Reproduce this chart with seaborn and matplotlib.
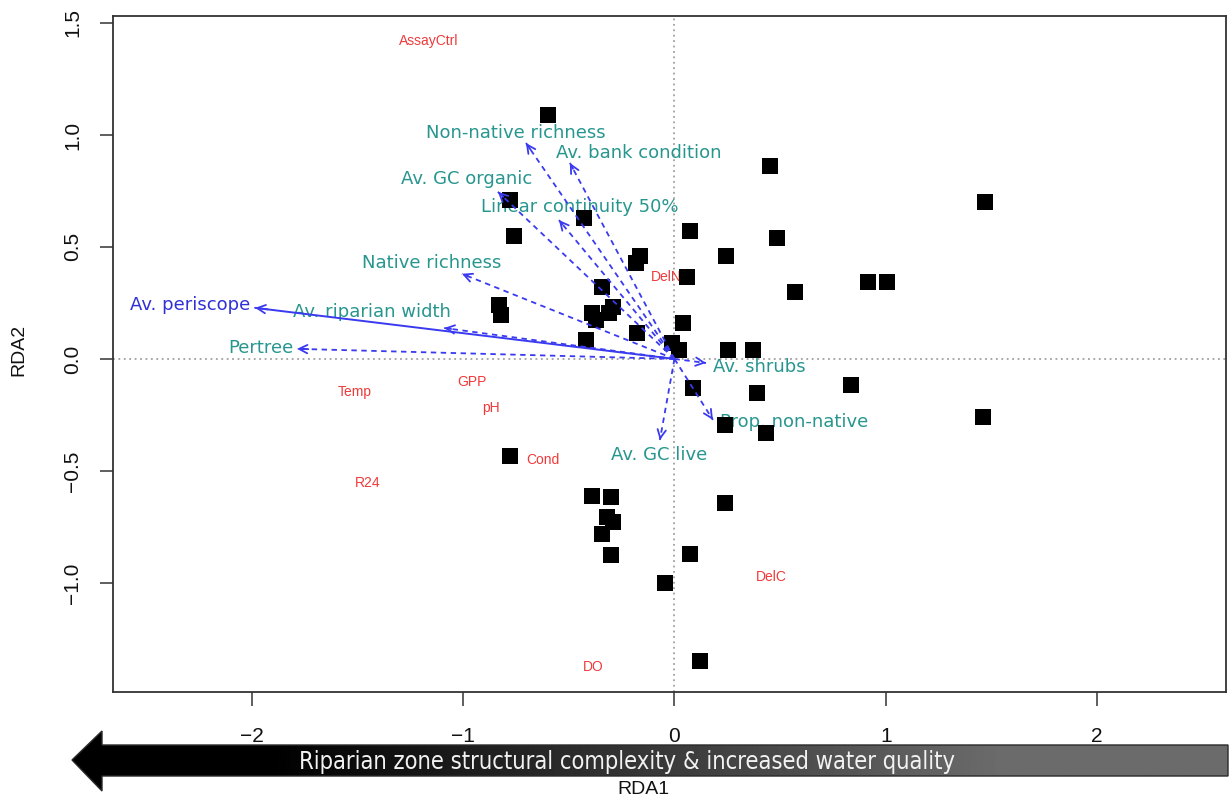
import numpy as np
import pandas as pd
import matplotlib
matplotlib.use("Agg")
import matplotlib.pyplot as plt
import seaborn as sns
from matplotlib.patches import Polygon

# ---- site scores (black squares) ----
site_x = [-0.60, 0.45, 1.47, -0.78, -0.76, -0.43, 0.075, 0.485, 0.245, -0.165,
          -0.18, 0.06, 0.57, 0.915, 1.005, -0.345, -0.83, -0.82, -0.39, -0.37,
          -0.29, -0.31, -0.175, -0.42, 0.04, -0.01, 0.02, 0.255, 0.37, 0.09,
          0.39, 0.835, 1.46, 0.24, 0.435, -0.78, -0.39, -0.30, 0.24, -0.32,
          -0.29, -0.345, -0.30, 0.075, -0.045, 0.12]
site_y = [1.09, 0.86, 0.70, 0.71, 0.55, 0.63, 0.57, 0.54, 0.46, 0.46,
          0.43, 0.365, 0.30, 0.345, 0.345, 0.32, 0.24, 0.195, 0.205, 0.175,
          0.23, 0.205, 0.115, 0.085, 0.16, 0.07, 0.04, 0.04, 0.04, -0.13,
          -0.15, -0.115, -0.26, -0.295, -0.33, -0.435, -0.61, -0.615, -0.645, -0.705,
          -0.73, -0.78, -0.875, -0.87, -1.00, -1.35]

# ---- explanatory variable arrows ----
var_names = ["Av. periscope", "Av. riparian width", "Pertree", "Native richness",
             "Av. GC organic", "Non-native richness", "Av. bank condition",
             "Linear continuity 50%", "Av. shrubs", "Prop. non-native", "Av. GC live"]
var_x = [-1.985, -1.09, -1.787, -1.006, -0.836, -0.703, -0.495, -0.547, 0.149, 0.182, -0.069]
var_y = [0.228, 0.138, 0.045, 0.38, 0.746, 0.964, 0.875, 0.62, -0.018, -0.272, -0.362]
var_lab_x = [-2.293, -1.434, -1.957, -1.148, -0.982, -0.75, -0.168, -0.447, 0.40, 0.566, -0.073]
var_lab_y = [0.241, 0.21, 0.049, 0.428, 0.804, 1.009, 0.92, 0.679, -0.036, -0.281, -0.429]

# ---- response variable labels (red) ----
env_names = ["AssayCtrl", "DelN", "Temp", "GPP", "pH", "Cond", "R24", "DelC", "DO"]
env_x = [-1.162, -0.04, -1.512, -0.958, -0.869, -0.622, -1.45, 0.457, -0.386]
env_y = [1.42, 0.366, -0.147, -0.103, -0.219, -0.451, -0.554, -0.973, -1.375]

xticks = [-2, -1, 0, 1, 2]
xtick_labels = ["\u22122", "\u22121", "0", "1", "2"]
yticks = [-1.0, -0.5, 0.0, 0.5, 1.0, 1.5]
ytick_labels = ["\u22121.0", "\u22120.5", "0.0", "0.5", "1.0", "1.5"]
bar_text = "Riparian zone structural complexity & increased water quality"

sns.set_theme(style="white")
plt.rcParams['font.family'] = ['Liberation Sans', 'DejaVu Sans']

W, H = 1229, 802
fig = plt.figure(figsize=(W / 100, H / 100), dpi=100)
fig.patch.set_facecolor("white")
ax = fig.add_axes([113 / W, 110 / H, 1113 / W, 676 / H])
ax.set_facecolor("white")
ax.set_xlim(-2.658, 2.611)
ax.set_ylim(-1.487, 1.531)

ax.axhline(0, color="#a0a0a0", ls=(0, (1, 2)), lw=1.3, zorder=1)
ax.axvline(0, color="#a0a0a0", ls=(0, (1, 2)), lw=1.3, zorder=1)

teal = "#27968e"
blue = "#3a3af0"
red = "#f03a3a"

for n, lx, ly in zip(var_names, var_lab_x, var_lab_y):
    ax.text(lx, ly, n, color=("#3030d8" if n == "Av. periscope" else teal),
            fontsize=13, ha="center", va="center", family=["DejaVu Sans"], zorder=3)
for n, ex, ey in zip(env_names, env_x, env_y):
    ax.text(ex, ey, n, color=red, fontsize=10, ha="center", va="center", zorder=3)

df = pd.DataFrame({"RDA1": site_x, "RDA2": site_y})
sns.scatterplot(data=df, x="RDA1", y="RDA2", marker="s", s=140, color="black",
                linewidth=0, ax=ax, zorder=4, legend=False)

for n, vx, vy in zip(var_names, var_x, var_y):
    solid = (n == "Av. periscope")
    ax.plot([0, vx], [0, vy], color=blue, lw=1.4 if solid else 1.3,
            ls="-" if solid else (0, (3, 2.5)), zorder=5)
    ax.annotate("", xy=(vx, vy), xytext=(vx * 0.97, vy * 0.97),
                arrowprops=dict(arrowstyle="->,head_length=0.5,head_width=0.25",
                                color=blue, lw=1.3, shrinkA=0, shrinkB=0), zorder=5)

ax.set_xticks(xticks)
ax.set_xticklabels(xtick_labels)
ax.set_yticks(yticks)
ax.set_yticklabels(ytick_labels, rotation=90, va="center")
ax.tick_params(axis="x", bottom=True, direction="out", length=10, width=1.1,
               color="#333333", labelsize=15, pad=15, labelcolor="#111111")
ax.tick_params(axis="y", left=True, direction="out", length=9.4, width=1.1,
               color="#333333", labelsize=15, pad=13, labelcolor="#111111")
ax.set_xlabel("")
ax.set_ylabel("")
for sp in ax.spines.values():
    sp.set_visible(True)
    sp.set_color("#333333")
    sp.set_linewidth(1.3)

fig.text(643 / W, 1 - 790 / H, "RDA1", ha="center", va="center", fontsize=14, color="#111111")
fig.text(19 / W, 1 - 350 / H, "RDA2", ha="center", va="center", fontsize=14,
         rotation=90, color="#111111")

# ---- gradient arrow at the bottom ----
oax = fig.add_axes([0, 0, 1, 1], zorder=10)
oax.patch.set_alpha(0)
oax.axis("off")
poly_pts = [(72, 760), (102, 731), (102, 745), (1228, 745), (1228, 776),
            (102, 776), (102, 791)]
poly = Polygon(poly_pts, closed=True, facecolor="none", edgecolor="#2a2a2a", lw=1)
oax.add_patch(poly)
gx = np.linspace(72, 1228, 800)
gv = np.interp(gx, [72, 270, 1000, 1228], [0.0, 0.0, 0.42, 0.42])
im = oax.imshow(np.tile(gv, (2, 1)), cmap="gray", vmin=0, vmax=1,
                extent=[72, 1228, 791, 731], aspect="auto", interpolation="bilinear")
im.set_clip_path(poly)
oax.set_xlim(0, W)
oax.set_ylim(H, 0)
oax.text(627, 762, bar_text, color="#f2f2f2", fontsize=17,
         family=["Liberation Sans Narrow", "DejaVu Sans"], fontstretch="condensed",
         ha="center", va="center")

fig.savefig("out.png", dpi=100)
